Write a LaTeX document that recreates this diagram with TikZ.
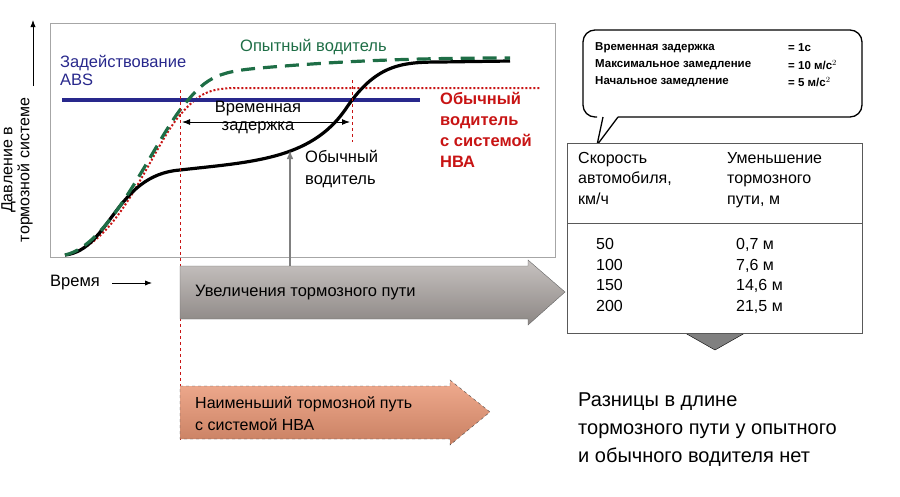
\documentclass[tikz,border=0pt]{standalone}
\usepackage{fontspec}
\setmainfont{Liberation Sans}
\usetikzlibrary{arrows.meta,shapes.arrows,calc}
\definecolor{dgreen}{RGB}{30,110,70}
\definecolor{dblue}{RGB}{40,40,140}
\definecolor{dred}{RGB}{200,20,20}
\definecolor{gfill}{RGB}{175,168,165}
\definecolor{sfill}{RGB}{236,150,115}
\begin{document}
\begin{tikzpicture}[x=1pt,y=-1pt,
  lbl/.style={inner sep=0pt,font=\fontsize{16.5}{18}\selectfont,align=left},
  sm/.style={inner sep=0pt,font=\fontsize{11.5}{12}\selectfont\bfseries,anchor=west},
  tb/.style={inner sep=0pt,align=left,anchor=north west}]
\useasboundingbox (0,0) rectangle (900,496);
% chart frame
\draw[gray!70,line width=1pt] (50,23) rectangle (555,257);
% y axis
\coordinate (ya) at (33,86); \coordinate (yb) at (33,20);
\draw[line width=0.8pt,-{Latex[length=7pt]}] (ya) -- (yb);
\node[lbl,rotate=90,align=center,font=\fontsize{16}{17}\selectfont] (ylab) at (17,170) {Давление в\\тормозной системе};
% curves
\draw[dred,line width=2pt,dotted] (65,255) .. controls (120,245) and (150,150) .. (180,115) .. controls (200,92) and (210,88) .. (240,88) -- (540,88);
\draw[dblue,line width=3.5pt] (62,100) -- (420,100);
\draw[line width=3.2pt] (65,255) .. controls (110,250) and (115,175) .. (180,170) .. controls (250,162) and (310,160) .. (345,110) .. controls (375,65) and (400,62) .. (440,62) -- (510,61);
\draw[dgreen,line width=3.2pt,dash pattern=on 14pt off 8pt] (65,255) .. controls (110,245) and (150,150) .. (180,110) .. controls (205,78) and (215,72) .. (260,68) .. controls (330,62) and (400,58) .. (510,58);
% verticals
\draw[dred,dashed,thin] (180,90) -- (180,440);
\draw[dred,dashed,thin] (352,80) -- (352,142);
\coordinate (da) at (182,122); \coordinate (db) at (350,122);
\draw[{Latex[length=8pt]}-{Latex[length=8pt]},line width=1pt] (da) -- (db);
\node[lbl,align=center] (vz) at (258,118) {Временная\\задержка};
% labels
\node[lbl,dgreen,anchor=west] (gl) at (240,47) {Опытный водитель};
\node[lbl,dblue,anchor=north west] (bl) at (60,55) {Задействование\\ABS};
\node[lbl,dred,anchor=north west,font=\fontsize{16.5}{21}\selectfont\bfseries] (rl) at (440,92) {Обычный\\водитель\\с системой\\НВА};
\node[lbl,anchor=north west,font=\fontsize{16.5}{22}\selectfont] (kl) at (305,150) {Обычный\\водитель};
% gray arrow up
\coordinate (ga) at (290,268); \coordinate (gb) at (290,150);
\draw[gray,line width=2pt,-{Latex[length=9pt]}] (ga) -- (gb);
% time
\node[lbl,anchor=west] (tl) at (50,283) {Время};
\coordinate (ta) at (112,283); \coordinate (tb) at (152,283);
\draw[line width=0.8pt,-{Latex[length=7pt]}] (ta) -- (tb);
% big gray arrow
\draw[gray!80!black,top color=gfill!70!white,bottom color=gfill!80!black] (180,266) -- (528,266) -- (528,260) -- (565,292) -- (528,325) -- (528,319) -- (180,319) -- cycle;
\node[lbl,anchor=west] (ga1) at (195,293) {Увеличения тормозного пути};
% salmon arrow
\draw[dashed,gray!60!black,top color=sfill!80!white,bottom color=sfill!85!black] (180,386) -- (450,386) -- (450,380) -- (490,412) -- (450,445) -- (450,439) -- (180,439) -- cycle;
\node[lbl,anchor=north west,font=\fontsize{16}{22}\selectfont] (sa1) at (195,396) {Наименьший тормозной путь\\с системой НВА};
% bubble
\draw[line width=1.3pt,rounded corners=12pt] (597,117) -- (583,117) -- (583,30) -- (862,30) -- (862,117) -- (618,117);
\draw[line width=1.3pt] (618,117) -- (597,145) -- (603,117);
\node[sm] (b1) at (595,48) {Временная задержка};
\node[sm] (b2) at (595,65) {Максимальное замедление};
\node[sm] (b3) at (595,82) {Начальное замедление};
\node[sm] (c1) at (788,48) {= 1с};
\node[sm] (c2) at (788,65) {= 10 м/с$^2$};
\node[sm] (c3) at (788,82) {= 5 м/с$^2$};
% table
\draw[fill=gray] (685,333) -- (745,333) -- (715,350) -- cycle;
\draw[gray!70!black,fill=white,line width=1pt] (567,143) rectangle (862,333);
\draw[gray!70!black,line width=1pt] (567,223) -- (862,223);
\node[tb,font=\fontsize{16}{20.5}\selectfont] (h1) at (578,152) {Скорость\\автомобиля,\\км/ч};
\node[tb,font=\fontsize{16}{20.5}\selectfont] (h2) at (727,152) {Уменьшение\\тормозного\\пути, м};
\node[tb,font=\fontsize{16}{20.7}\selectfont] (v1) at (596,238) {50\\100\\150\\200};
\node[tb,font=\fontsize{16}{20.7}\selectfont] (v2) at (736,238) {0,7 м\\7,6 м\\14,6 м\\21,5 м};
% bottom text
\node[anchor=north west,inner sep=0pt,align=left,font=\fontsize{20}{28}\selectfont] (bt) at (578,393) {Разницы в длине\\тормозного пути у опытного\\и обычного водителя нет};
\end{tikzpicture}
\end{document}
